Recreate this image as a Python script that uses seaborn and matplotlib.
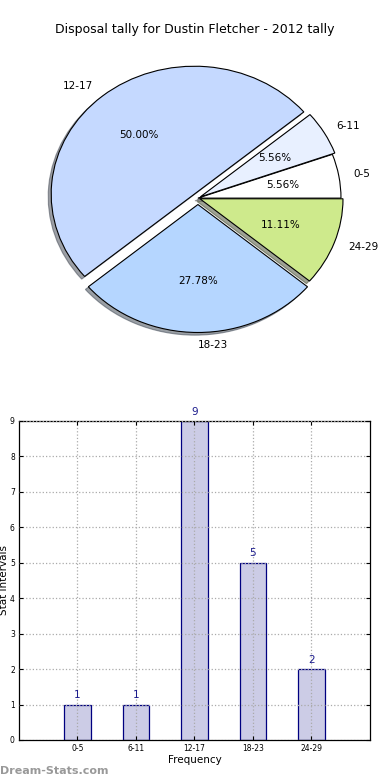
import matplotlib
matplotlib.use("Agg")
import matplotlib.pyplot as plt
import seaborn as sns
import pandas as pd

# data
intervalos = ["0-5", "6-11", "12-17", "18-23", "24-29"]
cuentas = [1, 1, 9, 5, 2]
colores_pie = ["#FFFFFF", "#E8F0FF", "#C5D9FF", "#B5D6FF", "#CEEA8C"]
explode = [0, 0.02, 0.04, 0.05, 0.015]
titulo = "Disposal tally for Dustin Fletcher - 2012 tally"

sns.set_style("white")
plt.rcParams['font.family'] = ['DejaVu Sans']
plt.rcParams['text.color'] = 'black'
plt.rcParams['axes.labelcolor'] = 'black'
plt.rcParams['xtick.color'] = 'black'
plt.rcParams['ytick.color'] = 'black'

fig = plt.figure(figsize=(3.9, 7.8), dpi=100)

# pie
ax1 = fig.add_axes([0.049, 0.536, 0.917, 0.42])
ax1.pie(cuentas, labels=intervalos, colors=colores_pie, explode=explode,
        autopct="%.2f%%", startangle=0,
        shadow={"ox": -0.015, "oy": -0.015, "shade": 0.7},
        wedgeprops={"edgecolor": "black", "linewidth": 0.8},
        textprops={"fontsize": 7.5})
ax1.set_aspect("auto")
ax1.set_xlim(-1.25, 1.25)
ax1.set_ylim(-1.28, 1.28)
fig.text(0.5, 1 - 30 / 780, titulo, ha="center", va="center", fontsize=9)

# barras
ax2 = fig.add_axes([0.0487, 0.0513, 0.9, 0.409])
df = pd.DataFrame({"intervalo": intervalos, "cuenta": cuentas})
sns.barplot(data=df, x="intervalo", y="cuenta", ax=ax2, color="#CCCCE6",
            edgecolor="navy", linewidth=0.9, width=0.45, saturation=1)
for p in ax2.patches:
    p.set_facecolor("#CCCCE6")
for i, v in enumerate(cuentas):
    ax2.text(i, v + 0.12, str(v), ha="center", va="bottom", color="#1a1a8c", fontsize=7.5)

ax2.set_xlim(-1, 5)
ax2.set_ylim(0, 9)
ax2.set_yticks(range(0, 10))
ax2.grid(True, linestyle=":", color="#aaaaaa", linewidth=0.9)
ax2.set_axisbelow(False)
for sp in ax2.spines.values():
    sp.set_visible(True)
    sp.set_color("black")
    sp.set_linewidth(0.9)
ax2.tick_params(axis="both", labelsize=5.5, direction="in", length=3,
                top=True, right=True, bottom=True, left=True, pad=3)
ax2.set_xlabel("Frequency", fontsize=7.5, labelpad=1)
ax2.set_ylabel("Stat Intervals", fontsize=7.5, labelpad=1)

fig.text(0.0, 1 - 771 / 780, "Dream-Stats.com", ha="left", va="center",
         fontsize=8, color="#999999", fontweight="bold")

fig.savefig("out.png", dpi=100)
